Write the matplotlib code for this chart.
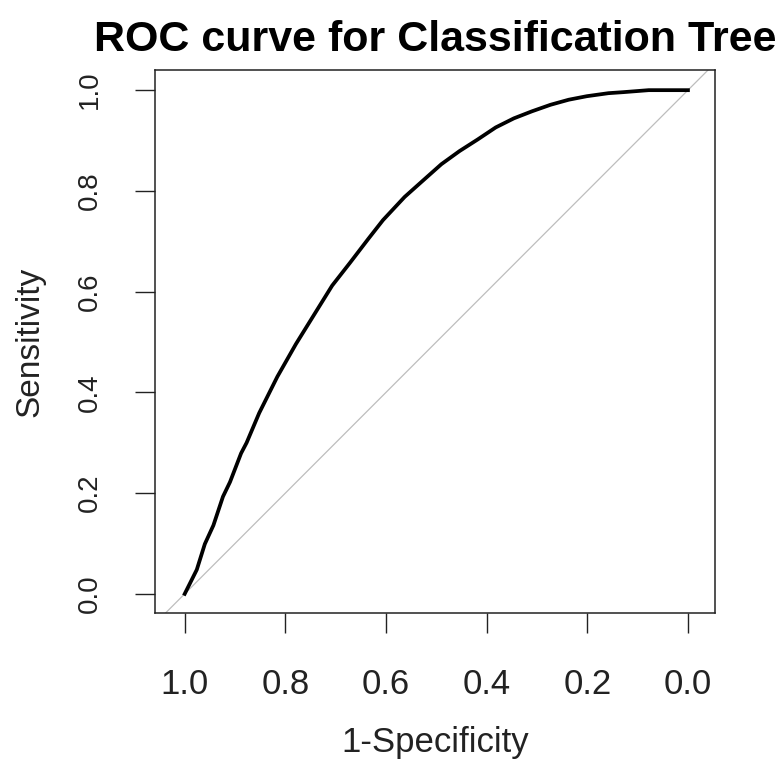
import numpy as np
import matplotlib
matplotlib.use('Agg')
import matplotlib.pyplot as plt

plt.rcParams['font.family'] = ['Liberation Sans', 'DejaVu Sans']

# specificity (axis is reversed) and sensitivity
specificity = [1.0, 0.976, 0.960, 0.943, 0.924, 0.910, 0.888, 0.877, 0.852, 0.816,
               0.779, 0.743, 0.707, 0.671, 0.635, 0.606, 0.563, 0.526, 0.490, 0.454,
               0.418, 0.382, 0.346, 0.310, 0.273, 0.237, 0.201, 0.158, 0.129, 0.078, 0.0]
sensitivity = [0.0, 0.048, 0.099, 0.136, 0.193, 0.222, 0.279, 0.300, 0.359, 0.431,
               0.496, 0.554, 0.612, 0.658, 0.705, 0.742, 0.788, 0.821, 0.853, 0.879,
               0.902, 0.926, 0.944, 0.958, 0.971, 0.981, 0.988, 0.994, 0.996, 1.0, 1.0]
ticks = [1.0, 0.8, 0.6, 0.4, 0.2, 0.0]
tick_labels = ['1.0', '0.8', '0.6', '0.4', '0.2', '0.0']


def main():
    fig = plt.figure(figsize=(7.79, 7.61), dpi=100)
    ax = fig.add_axes([0.199, 0.1945, 0.719, 0.7135])

    # chance diagonal, clipped by the axes
    ax.plot([1.2, -0.2], [-0.2, 1.2], color='#bdbdbd', lw=0.9)
    ax.plot(specificity, sensitivity, color='black', lw=2.7)

    ax.set_xlim(1.059, -0.054)
    ax.set_ylim(-0.038, 1.04)

    ax.set_xticks(ticks)
    ax.set_xticklabels(tick_labels)
    ax.set_yticks(ticks)
    ax.set_yticklabels(tick_labels, rotation=90, va='center')

    ax.tick_params(axis='x', length=14.4, width=1, labelsize=25, pad=25.5, colors='#222222')
    ax.tick_params(axis='y', length=14.4, width=1, labelsize=20, pad=23, colors='#222222')
    for spine in ax.spines.values():
        spine.set_linewidth(1.1)
        spine.set_color('#222222')

    ax.set_xlabel('1-Specificity', fontsize=25, labelpad=18, color='#222222')
    ax.set_ylabel('Sensitivity', fontsize=24, labelpad=23, color='#222222')
    ax.set_title('ROC curve for Classification Tree', fontsize=31, fontweight='bold', pad=14)

    fig.savefig('out.png', dpi=100)


if __name__ == '__main__':
    main()
